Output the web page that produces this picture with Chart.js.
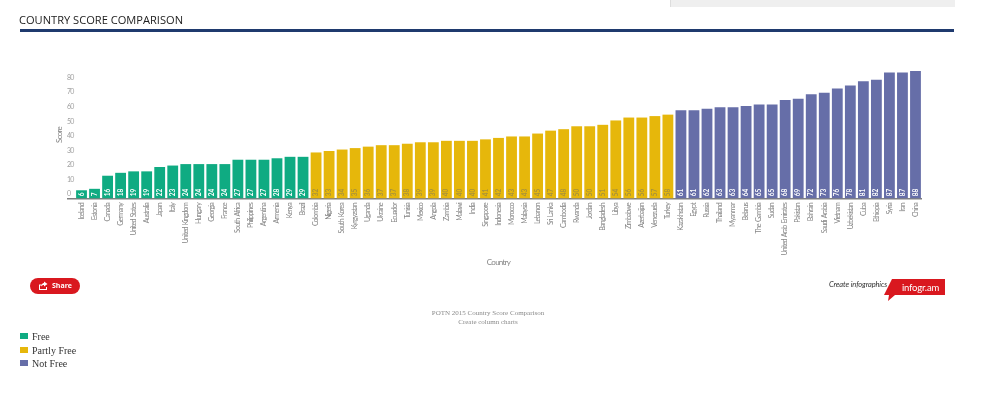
<!DOCTYPE html>
<html>
<head>
<meta charset="utf-8">
<title>Country Score Comparison</title>
<script src="https://cdn.jsdelivr.net/npm/chart.js@4/dist/chart.umd.min.js"></script>
<style>
  html, body { margin: 0; padding: 0; background: #fff; }
  #page { position: relative; width: 1000px; height: 393px; overflow: hidden; }
  #chart { position: absolute; left: 0; top: 0; }
  .abs { position: absolute; white-space: nowrap; }
  #topbox { left: 670px; top: 0; width: 284px; height: 7px; background: #efefef; border-left: 1px solid #ddd; }
  #heading { left: 19px; top: 13px; font: 11.1px/14px "Open Sans", sans-serif; color: #222; }
  #rule { left: 20px; top: 29px; width: 934px; height: 3px; background: #1f3a6e; }
  #share { left: 30px; top: 278px; width: 50px; height: 16px; border-radius: 8px; background: #d9181f; color: #fff; font: bold 7px/16px "Open Sans", sans-serif; }
  #share svg { position: absolute; left: 8px; top: 3px; }
  #share span { position: absolute; left: 22px; top: 0; }
  #create { left: 829px; top: 279px; font: italic 7.5px/11px "Lato", sans-serif; letter-spacing: -0.1px; color: #333; }
  #badge { left: 884px; top: 278px; }
  #badgeText { left: 902px; top: 281px; font: 9.5px/13px "Lato", sans-serif; letter-spacing: -0.2px; color: #fff; }
  #caption { left: 388px; top: 309px; width: 200px; text-align: center; font: 7px/8.5px "Liberation Serif", serif; color: #8a8a8a; }
  #legend { left: 20px; top: 330px; font: 10px/13.5px "Liberation Serif", serif; color: #333; }
  #legend div { position: relative; padding-left: 12px; }
  #legend i { position: absolute; left: 0; top: 3px; width: 8px; height: 6px; }
</style>
</head>
<body>
<div id="page">
  <canvas id="chart" width="1000" height="393"></canvas>
  <div class="abs" id="topbox"></div>
  <div class="abs" id="heading">COUNTRY SCORE COMPARISON</div>
  <div class="abs" id="rule"></div>
  <div class="abs" id="share">
    <svg width="10" height="10" viewBox="0 0 10 10"><path d="M1 3.5h3v1H2v3.5h6V6h1v3H1zM6 0.5l3.5 2.5L6 5.5V4C4.5 4 3.8 4.6 3.3 5.8 3.3 3.6 4.3 2.2 6 2z" fill="#fff"/></svg>
    <span>Share</span>
  </div>
  <div class="abs" id="create">Create infographics</div>
  <svg class="abs" id="badge" width="62" height="24"><polygon points="8,1 61,1 61,17 11,17 4,23 5,17 0,17" fill="#d9181f"/></svg>
  <div class="abs" id="badgeText">infogr.am</div>
  <div class="abs" id="caption">POTN 2015 Country Score Comparison<br>Create column charts</div>
  <div class="abs" id="legend"></div>
</div>
<script>
const freeCountries = ['Iceland', 'Estonia', 'Canada', 'Germany', 'United States', 'Australia', 'Japan', 'Italy', 'United Kingdom', 'Hungary', 'Georgia', 'France', 'South Africa', 'Philippines', 'Argentina', 'Armenia', 'Kenya', 'Brazil'];
const freeScores = [6, 7, 16, 18, 19, 19, 22, 23, 24, 24, 24, 24, 27, 27, 27, 28, 29, 29];

const partlyCountries = ['Colombia', 'Nigeria', 'South Korea', 'Kyrgyzstan', 'Uganda', 'Ukraine', 'Ecuador', 'Tunisia', 'Mexico', 'Angola', 'Zambia', 'Malawi', 'India', 'Singapore', 'Indonesia', 'Morocco', 'Malaysia', 'Lebanon', 'Sri Lanka', 'Cambodia', 'Rwanda', 'Jordan', 'Bangladesh', 'Libya', 'Zimbabwe', 'Azerbaijan', 'Venezuela', 'Turkey'];
const partlyScores = [32, 33, 34, 35, 36, 37, 37, 38, 39, 39, 40, 40, 40, 41, 42, 43, 43, 45, 47, 48, 50, 50, 51, 54, 56, 56, 57, 58];

const notFreeCountries = ['Kazakhstan', 'Egypt', 'Russia', 'Thailand', 'Myanmar', 'Belarus', 'The Gambia', 'Sudan', 'United Arab Emirates', 'Pakistan', 'Bahrain', 'Saudi Arabia', 'Vietnam', 'Uzbekistan', 'Cuba', 'Ethiopia', 'Syria', 'Iran', 'China'];
const notFreeScores = [61, 61, 62, 63, 63, 64, 65, 65, 68, 69, 72, 73, 76, 78, 81, 82, 87, 87, 88];

const groupNames = ['Free', 'Partly Free', 'Not Free'];
const groupColors = ['#0fab82', '#e6b70b', '#666ea8'];
const valueColors = ['#ffffff', '#a8923a', '#ffffff'];

const groupScores = [freeScores, partlyScores, notFreeScores];
const labels = [...freeCountries, ...partlyCountries, ...notFreeCountries];

// each group keeps its own dataset, the other positions stay empty
let start = 0;
const datasets = groupScores.map((scores, g) => {
  const data = labels.map((_, i) => (i >= start && i < start + scores.length) ? scores[i - start] : null);
  start += scores.length;
  return { label: groupNames[g], data: data, backgroundColor: groupColors[g], barPercentage: 0.83, categoryPercentage: 1 };
});

// the original axis text is condensed, no such font here so squeeze the letters
const squeezeText = {
  id: 'squeezeText',
  beforeDraw(chart) {
    chart.ctx.letterSpacing = '-0.75px';
    chart.ctx.wordSpacing = '1px';
  }
};

// the numbers at the foot of each bar
const valueLabels = {
  id: 'valueLabels',
  afterDatasetsDraw(chart) {
    const ctx = chart.ctx;
    chart.data.datasets.forEach((ds, g) => {
      chart.getDatasetMeta(g).data.forEach((bar, i) => {
        if (ds.data[i] === null) return;
        ctx.save();
        ctx.translate(bar.x, bar.base - 2);
        ctx.rotate(-Math.PI / 2);
        ctx.font = 'bold 6.5px Lato, sans-serif';
        ctx.letterSpacing = '-0.1px';
        ctx.fillStyle = valueColors[g];
        ctx.textAlign = 'left';
        ctx.textBaseline = 'middle';
        ctx.fillText(ds.data[i], 0, 0);
        ctx.restore();
      });
    });
  }
};

new Chart(document.getElementById('chart').getContext('2d'), {
  type: 'bar',
  data: { labels: labels, datasets: datasets },
  plugins: [squeezeText, valueLabels],
  options: {
    responsive: false,
    animation: false,
    layout: { padding: { left: 67, right: 78, top: 71, bottom: 126 } },
    plugins: { legend: { display: false }, tooltip: { enabled: false } },
    scales: {
      x: {
        stacked: true,
        afterFit(axis) { axis.height = 68; },
        grid: { display: false, drawTicks: false },
        border: { display: false },
        ticks: {
          autoSkip: false, minRotation: 90, maxRotation: 90, padding: 4,
          color: '#858585',
          font: { family: 'Lato, sans-serif', size: 7 }
        },
        title: {
          display: true, text: 'Country', color: '#858585',
          font: { family: 'Lato, sans-serif', size: 8 },
          padding: 0
        }
      },
      y: {
        stacked: true,
        min: 0,
        max: 88,
        afterFit(axis) { axis.width = 8; },
        afterBuildTicks(axis) { axis.ticks = axis.ticks.filter(t => t.value <= 80); },
        border: { display: false },
        grid: {
          tickLength: 8,
          lineWidth: 1.5,
          color: c => (c.tick && c.tick.value === 0) ? '#808080' : 'transparent'
        },
        ticks: {
          stepSize: 10,
          crossAlign: 'far',
          labelOffset: -5,
          color: '#a0a0a0',
          font: { family: 'Lato, sans-serif', size: 7 }
        },
        title: {
          display: true, text: 'Score', color: '#858585',
          font: { family: 'Lato, sans-serif', size: 8 },
          padding: { top: -12, bottom: 0 }
        }
      }
    }
  }
});

const legend = document.getElementById('legend');
groupNames.forEach((name, g) => {
  const row = document.createElement('div');
  row.innerHTML = `<i style="background:${groupColors[g]}"></i>${name}`;
  legend.appendChild(row);
});
</script>
</body>
</html>
